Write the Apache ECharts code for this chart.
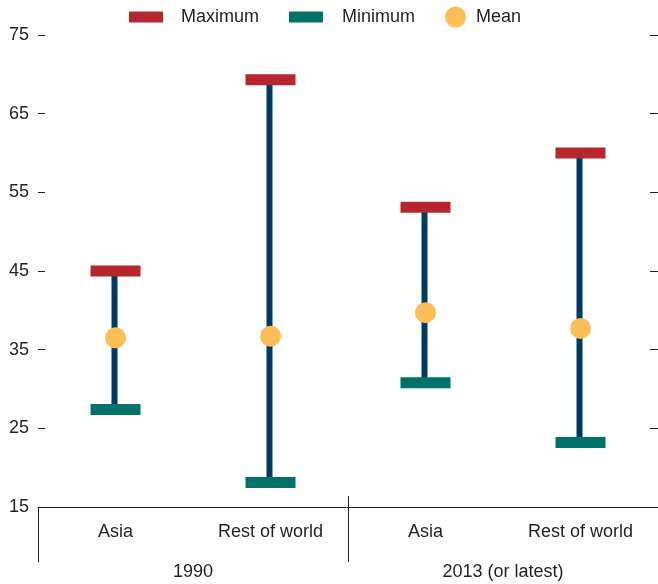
<!DOCTYPE html>
<html>
<head>
<meta charset="utf-8">
<script src="https://cdn.jsdelivr.net/npm/echarts@6/dist/echarts.min.js"></script>
<style>html,body{margin:0;padding:0;background:#fff;}#c{width:658px;height:584px;}</style>
</head>
<body>
<div id="c"></div>
<script>
const categories = ['Asia', 'Rest of world', 'Asia', 'Rest of world'];
const groups = ['1990', '2013 (or latest)'];
const maxValues = [45.0, 69.3, 53.1, 60.0];
const minValues = [27.4, 18.1, 30.8, 23.2];
const meanValues = [36.5, 36.7, 39.7, 37.7];
const yMin = 15, yMax = 75, yStep = 10;

const FONT = '"Liberation Sans", Arial, sans-serif';
const TXT = '#231f20';
const RED = '#b5262e', TEAL = '#00726a', NAVY = '#003a63', ORANGE = '#fdbe57';

const chart = echarts.init(document.getElementById('c'), null, {renderer: 'canvas'});

function legendBox(name, left, w, h, top, pad) {
  return {
    data: [{name: name}],
    left: left, top: top, itemWidth: w, itemHeight: h, itemGap: 0,
    padding: 0,
    selectedMode: false,
    textStyle: {fontFamily: FONT, fontSize: 18, color: TXT, padding: [0, 0, 0, pad], lineHeight: 22}
  };
}

const option = {
  animation: false,
  textStyle: {fontFamily: FONT},
  legend: [
    legendBox('Maximum', 129, 34, 11, 6, 13),
    legendBox('Minimum', 289, 34, 11, 6, 14),
    legendBox('Mean', 445, 21, 21, 6, 5)
  ],
  grid: {left: 38, right: -4, top: 35, bottom: 77, containLabel: false},
  xAxis: [{
    type: 'category', data: categories, position: 'bottom',
    axisLine: {show: true, lineStyle: {color: TXT, width: 1}},
    axisTick: {show: false},
    axisLabel: {fontFamily: FONT, fontSize: 18, color: TXT, margin: 16}
  }, {
    type: 'category', data: groups, position: 'bottom',
    axisLine: {show: false},
    axisTick: {show: true, length: 55, lineStyle: {color: TXT, width: 1}},
    axisLabel: {fontFamily: FONT, fontSize: 18, color: TXT, margin: 56}
  }],
  yAxis: [{
    type: 'value', min: yMin, max: yMax, interval: yStep, position: 'left',
    axisLine: {show: false},
    axisTick: {show: true, inside: true, length: 7, lineStyle: {color: TXT}},
    splitLine: {show: false},
    axisLabel: {fontFamily: FONT, fontSize: 18, color: TXT, margin: 9}
  }, {
    type: 'value', min: yMin, max: yMax, interval: yStep, position: 'right',
    axisLine: {show: false},
    axisTick: {show: true, inside: true, length: 8, lineStyle: {color: TXT}},
    splitLine: {show: false},
    axisLabel: {show: false}
  }],
  series: [{
    type: 'custom', name: 'range', xAxisIndex: 0, yAxisIndex: 0,
    encode: {x: 0, y: [1, 2]},
    data: categories.map((c, i) => [i, maxValues[i], minValues[i]]),
    renderItem: function (params, api) {
      const top = api.coord([api.value(0), api.value(1)]);
      const bot = api.coord([api.value(0), api.value(2)]);
      return {type: 'line', shape: {x1: top[0] - 1, y1: top[1], x2: bot[0] - 1, y2: bot[1]},
              style: {stroke: NAVY, lineWidth: 6}};
    },
    z: 1
  }, {
    type: 'scatter', name: 'Maximum', symbol: 'rect', symbolSize: [50, 11],
    itemStyle: {color: RED, opacity: 1},
    data: categories.map((c, i) => [i, maxValues[i]]), z: 2
  }, {
    type: 'scatter', name: 'Minimum', symbol: 'rect', symbolSize: [50, 11],
    itemStyle: {color: TEAL, opacity: 1},
    data: categories.map((c, i) => [i, minValues[i]]), z: 2
  }, {
    type: 'scatter', name: 'Mean', symbol: 'circle', symbolSize: 21,
    itemStyle: {color: ORANGE, opacity: 1},
    data: categories.map((c, i) => [i, meanValues[i]]), z: 3
  }]
};
chart.setOption(option);

// separator segment above the axis between the two year groups
const xa = chart.convertToPixel({xAxisIndex: 0}, 1);
const xb = chart.convertToPixel({xAxisIndex: 0}, 2);
const yBase = chart.convertToPixel({yAxisIndex: 0}, yMin);
const xm = Math.round((xa + xb) / 2) + 0.5;
chart.setOption({
  graphic: [{
    type: 'line', silent: true,
    shape: {x1: xm, y1: yBase - 11, x2: xm, y2: yBase},
    style: {stroke: TXT, lineWidth: 1}
  }]
});
</script>
</body>
</html>
